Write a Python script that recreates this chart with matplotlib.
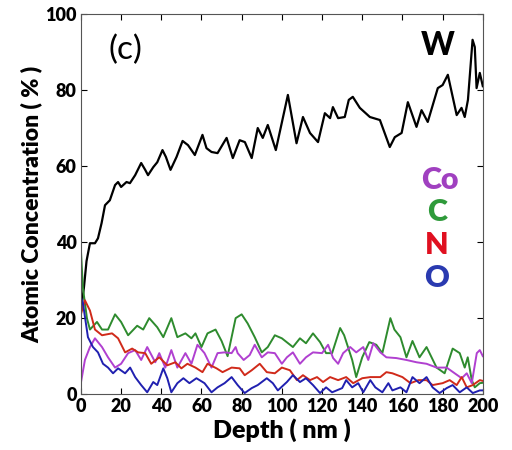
import matplotlib
matplotlib.use("Agg")
from matplotlib import pyplot as plt

plt.rcParams['font.family'] = ['Lato', 'DejaVu Sans']

# depth profile values (depth in nm, concentration in %)
w_depth = [0, 1.5, 2.8, 4.5, 7, 8.5, 10.3, 12, 14.4, 17, 18.5, 20, 22.7, 24.4, 27, 30, 32, 33.4, 36,
           38, 40.6, 42.3, 44.6, 47.6, 50.6, 53.3, 56.7, 60.5, 62.5, 65, 68, 72.5, 75.6, 79, 81.6,
           85, 88, 90.5, 93, 97, 103, 107.3, 110.5, 114, 118, 121.4, 124, 125.4, 128, 131.3, 133.3,
           135.3, 138.8, 143.8, 148.8, 153.7, 156.2, 159.6, 162.7, 167, 169.5, 172.6, 177.6, 180,
           182.6, 187, 189.4, 191, 192.6, 194.9, 196, 196.9, 198.5, 200]
w_conc = [22, 28, 35, 39.7, 39.7, 41, 45, 49.7, 51, 55, 55.8, 54.5, 55.8, 55.5, 57.6, 60.8, 59, 57.6,
          59.7, 61, 64.2, 62.4, 59, 62.4, 66.6, 65.5, 62.9, 68.2, 64.7, 63.7, 63.4, 67.4, 62.1, 66.8,
          66.3, 62.1, 70, 67.4, 70.8, 64.2, 78.7, 66, 72.9, 68.7, 66.3, 73.9, 72.6, 75.5, 72.6, 72.9,
          77.4, 78.2, 75.3, 72.9, 72.1, 65, 67.6, 68.7, 76.8, 70.3, 74.7, 71.6, 80.5, 81.3, 84, 73.4,
          75.3, 72.9, 77.4, 93.2, 91.3, 80.5, 84.5, 81]

c_depth = [0, 1, 3, 4.5, 8, 10.5, 13.5, 17, 20, 23.5, 28, 31, 34, 38, 41, 45, 48, 52, 55, 57, 60, 63,
           67, 70, 73, 77, 80, 83, 86.5, 90, 93, 96.5, 100, 105.5, 109, 112, 115.5, 119, 122, 125, 129,
           131, 135, 137, 140, 143.5, 147, 150, 154, 156, 159, 162, 165, 168.5, 172, 177, 181, 185,
           188.5, 191, 192.5, 194.5, 196, 198.5, 200]
c_conc = [38, 28, 20, 17, 19, 17, 17, 21, 19, 15.5, 18, 17, 20, 17.6, 15, 20, 15, 16, 14.7, 16, 12.4,
          16, 17, 14, 10, 20, 21, 18.6, 15, 11, 12.4, 15.5, 14.7, 12.4, 14.7, 13.4, 16, 13.7, 10.8,
          10.8, 17.4, 15.5, 9, 4.5, 9.7, 13.7, 13, 10.8, 20, 17, 15, 9.7, 14, 9.7, 12.4, 7, 5.5, 12,
          10.8, 7, 9.7, 3.7, 1.8, 2.9, 3]

n_depth = [0, 2, 4.5, 7, 10.5, 15.5, 18.5, 22, 25.5, 28.5, 32, 35, 39, 43, 47, 50, 53, 57, 60.5, 63,
           67.5, 70.5, 75, 79, 81.5, 85, 89, 92.5, 96.5, 100, 104, 107.5, 110.5, 114, 117.5, 120.5,
           124, 128, 132, 135.5, 140, 144, 149, 152, 155, 160, 164, 168, 172, 175, 180, 183.5, 187,
           189.5, 192, 195, 198.5, 200]
n_conc = [21, 24.7, 22, 17, 15.5, 16, 14.7, 11, 12, 11, 10.8, 8, 9.7, 7.6, 8.4, 6.8, 8, 7, 5.8, 8,
          6.8, 5.8, 7, 6.8, 5, 6.3, 8, 5.8, 5.5, 7, 6.3, 3.7, 5, 3.7, 4.5, 3.2, 4.5, 3.7, 4.5, 2.9,
          4.2, 4.5, 4.5, 5.8, 5.5, 4.5, 2.9, 3.7, 3.7, 2.4, 2.9, 3.7, 2.4, 4.5, 1.8, 2.4, 3.7, 3.5]

co_depth = [0, 2, 4.5, 7, 10.5, 13.5, 17, 20, 23.5, 27, 30, 33, 37, 39, 42, 45, 48, 52, 55, 58, 61.5,
            65, 68, 71.5, 75, 77, 78, 81, 84, 86.5, 90, 93, 96.5, 100, 102.5, 105.5, 109, 112, 115.5,
            120, 123, 125.5, 128, 130.5, 134, 137, 140.5, 143, 145.5, 149, 152, 157, 162, 167, 172,
            177, 182, 186, 189.5, 192, 194.5, 197, 198.5, 200]
co_conc = [3, 9, 12.4, 14.7, 12.4, 9.7, 7, 8, 10.8, 11.6, 9, 12.4, 8.4, 10.8, 7, 11.6, 7, 10.8, 8,
           13, 10.8, 7, 10.8, 11, 10.8, 12.4, 10.8, 9, 10.3, 13, 9.7, 11, 10.8, 8, 9.7, 11, 8, 9.7,
           11, 10.8, 13, 9.5, 8, 10.8, 12.4, 11, 12.4, 9, 13.4, 11, 9.7, 9.5, 9, 8.4, 8, 7, 7, 5.5,
           4.2, 5.5, 2.9, 10.8, 11.6, 10]

o_depth = [0, 1, 3.5, 6, 8.5, 11, 13.5, 16, 18.5, 22, 24.5, 27, 30, 33, 36, 38, 41, 43, 45, 48, 51,
           54, 57.5, 61.5, 65, 68, 71.5, 75, 78, 81.5, 85, 88, 92.5, 95.5, 98, 102.5, 105.5, 109, 112,
           115.5, 119, 122, 125, 130, 132, 135, 138, 140.5, 144, 146.5, 150, 153, 155, 159, 162, 165,
           168.5, 172, 175, 178.5, 182, 185, 188.5, 192, 195, 198.5, 200]
o_conc = [25.5, 24, 15, 12.4, 11, 8, 7, 5.5, 6.8, 5.5, 7, 4.5, 2.4, 0.5, 3.2, 2.4, 6.8, 4.2, 0.5,
          2.9, 4.2, 2.9, 4.2, 2.9, 0.5, 1.8, 2.9, 4.5, 2.4, 0.3, 1.6, 2.4, 4.2, 2.9, 1, 3.2, 5, 3.2,
          4.2, 2.4, 0.3, 1.8, 0.5, 1.6, 3.7, 1.8, 2.9, 0.5, 3.7, 1.8, 0.5, 2.9, 1, 1.8, 0.5, 4.5,
          2.9, 4.5, 1.8, 0.3, 1.6, 2.4, 0.5, 1.8, 0.3, 1, 1]

x_ticks = [0, 20, 40, 60, 80, 100, 120, 140, 160, 180, 200]
y_ticks = [0, 20, 40, 60, 80, 100]

fig = plt.figure(figsize=(5.12, 4.5), dpi=100)
ax = fig.add_axes([0.158, 0.124, 0.785, 0.845])

ax.plot(w_depth, w_conc, color="black", lw=1.6)
ax.plot(c_depth, c_conc, color="#2e8b2e", lw=1.4)
ax.plot(co_depth, co_conc, color="#b040d0", lw=1.4)
ax.plot(n_depth, n_conc, color="#d02a1a", lw=1.4)
ax.plot(o_depth, o_conc, color="#2020b0", lw=1.4)

ax.set_xlim(0, 200)
ax.set_ylim(0, 100)
ax.set_xticks(x_ticks)
ax.set_yticks(y_ticks)
ax.tick_params(direction="in", top=True, right=True, length=4, labelsize=13, pad=3)
for lab in ax.get_xticklabels() + ax.get_yticklabels():
    lab.set_fontweight("heavy")
for sp in ax.spines.values():
    sp.set_color("#555555")

ax.set_xlabel("Depth ( nm )", fontsize=18, fontweight="heavy", labelpad=2)
ax.set_ylabel("Atomic Concentration ( % )", fontsize=16.5, fontweight="heavy", labelpad=2)

ax.text(22, 90.5, "(c)", fontsize=24, ha="center", va="center")
ax.text(177.5, 91.8, "W", fontsize=23, fontweight="black", ha="center", va="center", color="black")
ax.text(178.5, 56.3, "Co", fontsize=22, fontweight="heavy", ha="center", va="center", color="#a040c0")
ax.text(177, 47.9, "C", fontsize=22, fontweight="heavy", ha="center", va="center", color="#2e9a3a")
ax.text(177, 39.2, "N", fontsize=22, fontweight="heavy", ha="center", va="center", color="#e01020")
ax.text(177, 30.5, "O", fontsize=22, fontweight="heavy", ha="center", va="center", color="#2a3ab0")

fig.savefig("out.png", dpi=100)
